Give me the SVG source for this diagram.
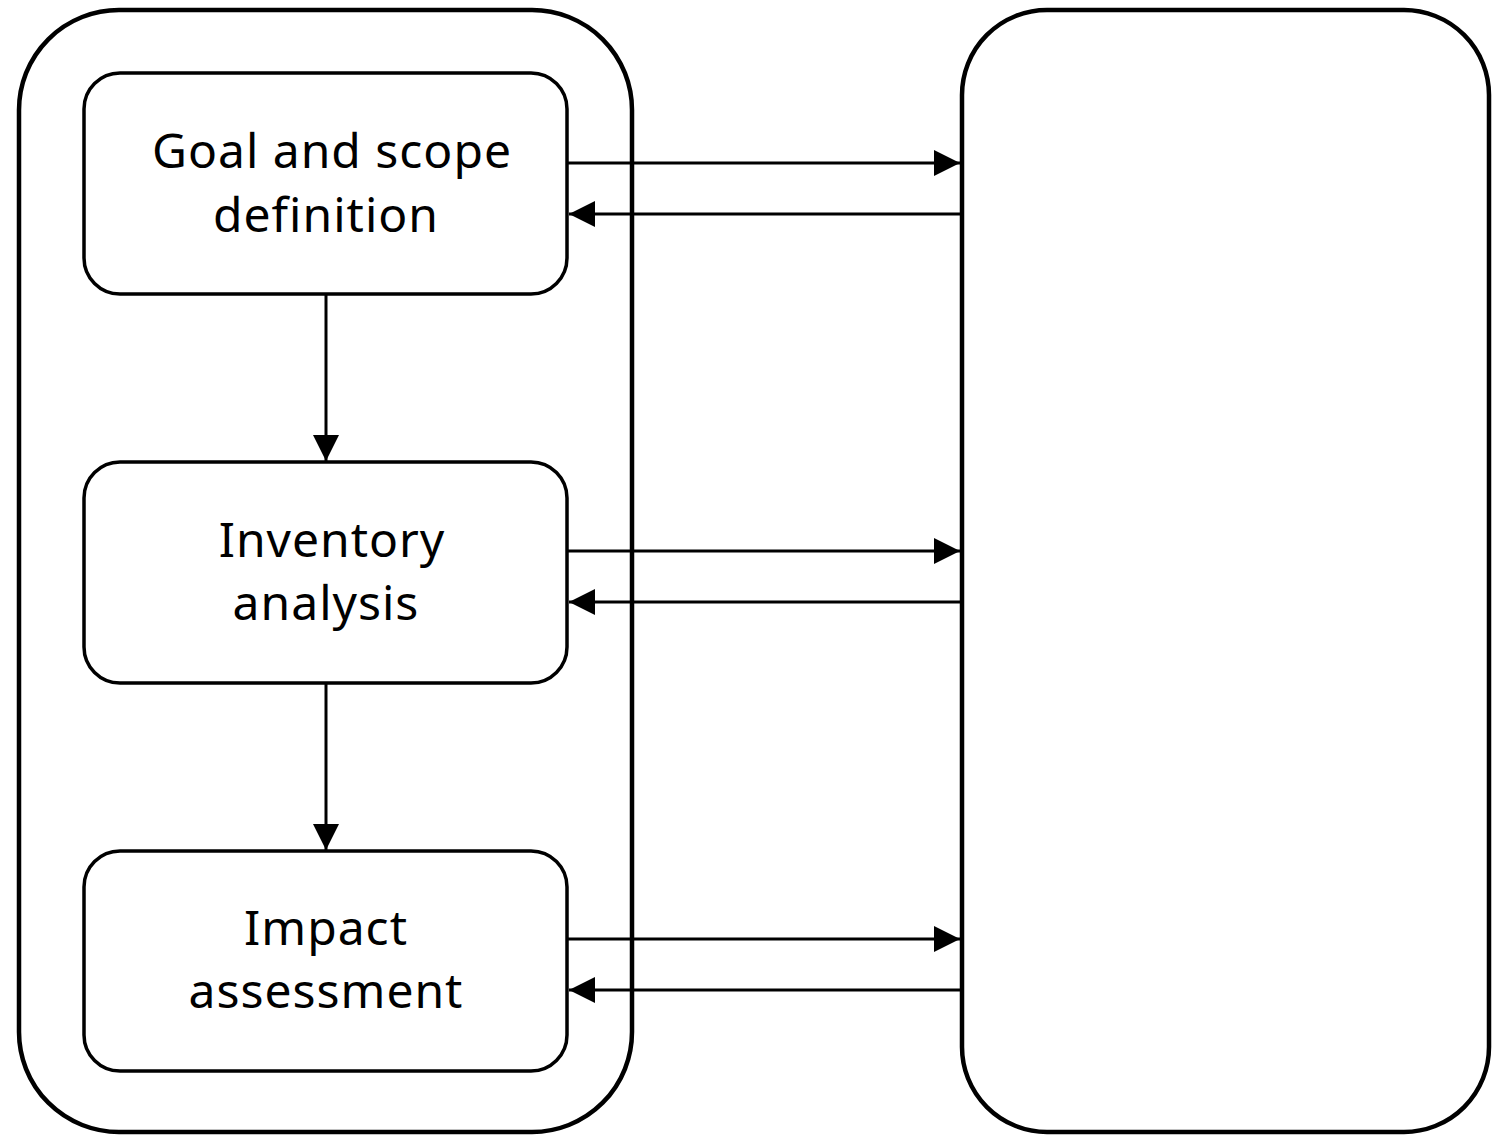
<svg xmlns="http://www.w3.org/2000/svg" width="1499" height="1135" viewBox="0 0 1499 1135">
<defs>
<style>
.outer{fill:#fff;stroke:#000;stroke-width:4.5}
.box{fill:#fff;stroke:#000;stroke-width:3.5}
.lbl{font-family:"Noto Sans","Liberation Sans",sans-serif;font-size:48px;letter-spacing:1px;fill:#000;text-anchor:middle}
.con{stroke:#000;stroke-width:3;fill:none}
</style>
<marker id="ahb" viewBox="0 0 26 26" refX="26" refY="13" markerWidth="26" markerHeight="26" markerUnits="userSpaceOnUse" orient="auto">
<path d="M0,0 L26,13 L0,26 Z" fill="#000"/>
</marker>
</defs>
<g id="left-container"><rect class="outer" x="19" y="10" width="613" height="1122" rx="100" ry="100"/></g>
<g id="right-container"><rect class="outer" x="962" y="10" width="527" height="1122" rx="85" ry="85"/></g>
<g id="connectors">
<line class="con" x1="567" y1="163" x2="960" y2="163" marker-end="url(#ahb)"/>
<line class="con" x1="962" y1="214" x2="569" y2="214" marker-end="url(#ahb)"/>
<line class="con" x1="567" y1="551" x2="960" y2="551" marker-end="url(#ahb)"/>
<line class="con" x1="962" y1="602" x2="569" y2="602" marker-end="url(#ahb)"/>
<line class="con" x1="567" y1="939" x2="960" y2="939" marker-end="url(#ahb)"/>
<line class="con" x1="962" y1="990" x2="569" y2="990" marker-end="url(#ahb)"/>
<line class="con" x1="326" y1="294" x2="326" y2="461" marker-end="url(#ahb)"/>
<line class="con" x1="326" y1="683" x2="326" y2="850" marker-end="url(#ahb)"/>
</g>
<g id="goal">
<rect class="box" x="84" y="73" width="483" height="221" rx="36" ry="36"/>
<text class="lbl" x="332" y="168">Goal and scope</text>
<text class="lbl" x="326" y="232">definition</text>
</g>
<g id="inventory">
<rect class="box" x="84" y="462" width="483" height="221" rx="36" ry="36"/>
<text class="lbl" x="332" y="557">Inventory</text>
<text class="lbl" x="326" y="620">analysis</text>
</g>
<g id="impact">
<rect class="box" x="84" y="851" width="483" height="220" rx="36" ry="36"/>
<text class="lbl" x="326" y="945">Impact</text>
<text class="lbl" x="326" y="1008">assessment</text>
</g>
</svg>
